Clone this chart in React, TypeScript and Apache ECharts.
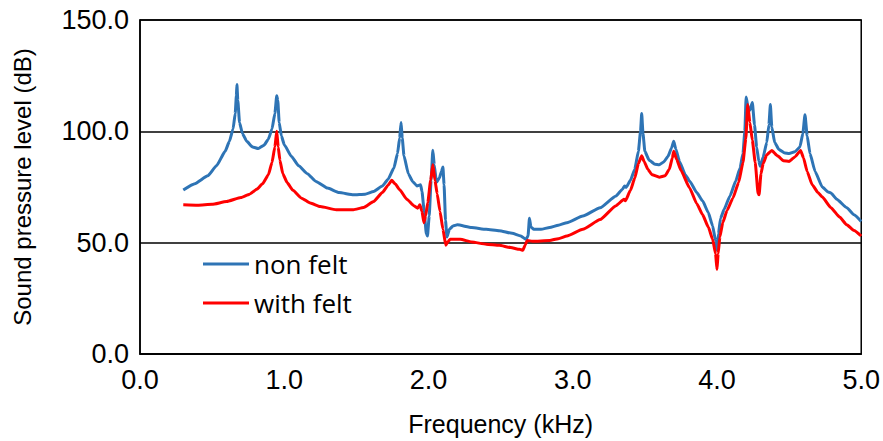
import React, { useEffect, useRef } from "react";
import * as echarts from "echarts";

// Frequency response, [frequency kHz, SPL dB]
const nonFelt: [number, number][] = [
  [0.30, 73.7], [0.38, 76.5], [0.47, 80], [0.53, 84.5], [0.59, 91], [0.62, 95.5],
  [0.645, 101], [0.66, 108], [0.668, 116], [0.672, 121], [0.678, 114], [0.69, 104],
  [0.71, 99], [0.74, 95.5], [0.78, 93], [0.82, 92.3], [0.86, 93.8], [0.89, 96.5],
  [0.915, 101], [0.935, 108], [0.948, 116], [0.955, 114], [0.965, 104], [0.98, 98],
  [1.00, 94], [1.05, 88.7], [1.10, 84.5], [1.16, 81], [1.22, 77.5], [1.30, 74.5],
  [1.38, 72.5], [1.48, 71.5], [1.56, 71.8], [1.62, 73], [1.68, 75.4], [1.72, 78.5],
  [1.76, 83.5], [1.785, 90], [1.80, 97], [1.81, 104], [1.818, 97], [1.83, 89],
  [1.86, 81], [1.89, 77.5], [1.92, 75.5], [1.945, 76], [1.955, 73], [1.97, 64],
  [1.985, 54], [1.993, 53], [2.005, 62], [2.018, 78], [2.03, 91.5], [2.04, 85],
  [2.055, 77], [2.075, 79], [2.09, 82], [2.10, 84], [2.108, 76], [2.118, 60],
  [2.128, 52.5], [2.145, 56], [2.17, 57.5], [2.2, 58], [2.3, 56.8], [2.4, 56],
  [2.49, 55.4], [2.58, 54.2], [2.64, 53], [2.675, 51.5], [2.69, 53], [2.70, 61],
  [2.71, 57], [2.73, 56], [2.78, 56], [2.84, 56.8], [2.9, 57.8], [2.96, 59],
  [3.07, 62], [3.19, 65.7], [3.30, 71], [3.345, 74], [3.36, 75.5], [3.37, 74.8],
  [3.40, 78], [3.43, 83], [3.455, 91], [3.47, 100], [3.478, 108], [3.487, 99],
  [3.50, 91], [3.53, 87], [3.57, 85.2], [3.60, 85], [3.63, 86.2], [3.66, 88.7],
  [3.685, 92.5], [3.70, 95.5], [3.715, 92], [3.74, 86.5], [3.78, 80.5],
  [3.81, 77.7], [3.86, 72.5], [3.90, 68.8], [3.94, 63.5], [3.97, 57.5],
  [3.99, 51], [4.00, 46.6], [4.01, 54], [4.025, 61], [4.05, 65], [4.09, 71],
  [4.13, 77.7], [4.16, 83.5], [4.18, 90], [4.193, 100], [4.202, 115.4],
  [4.215, 111], [4.228, 109.5], [4.245, 113], [4.26, 103], [4.275, 93],
  [4.29, 86.5], [4.30, 84.3], [4.32, 88.5], [4.345, 95], [4.36, 103], [4.37, 112],
  [4.38, 102], [4.40, 95], [4.43, 91.8], [4.47, 90.3], [4.50, 90], [4.54, 90.8],
  [4.575, 93], [4.595, 99], [4.61, 107.5], [4.625, 98], [4.645, 90], [4.68, 82],
  [4.73, 75], [4.77, 72.8], [4.79, 72.3], [4.83, 69.5], [4.90, 65.7],
  [4.95, 62.5], [5.0, 59.5],
];

const withFelt: [number, number][] = [
  [0.30, 67], [0.40, 66.8], [0.50, 67.2], [0.60, 68.5], [0.70, 70.3], [0.76, 71.8],
  [0.81, 74], [0.85, 76.5], [0.89, 80.5], [0.915, 86], [0.935, 93], [0.948, 100],
  [0.958, 93], [0.97, 87], [0.99, 81], [1.02, 77], [1.06, 73.5], [1.12, 70],
  [1.18, 67.8], [1.25, 66.2], [1.36, 64.8], [1.48, 64.8], [1.55, 65.8],
  [1.62, 68.5], [1.68, 72.5], [1.72, 75.8], [1.745, 78], [1.77, 76.3], [1.8, 73.8],
  [1.85, 69.5], [1.90, 66.5], [1.925, 65.5], [1.94, 67], [1.955, 64], [1.968, 59],
  [1.98, 62], [1.995, 68], [2.015, 78], [2.03, 85], [2.045, 78], [2.06, 72],
  [2.08, 64], [2.10, 56], [2.12, 48.8], [2.135, 50.5], [2.15, 51.5], [2.22, 51.5],
  [2.3, 50.3], [2.40, 49.3], [2.49, 48.8], [2.57, 47.8], [2.63, 47], [2.655, 46.6],
  [2.67, 49], [2.685, 51], [2.72, 50.6], [2.84, 51], [2.9, 51.8], [2.96, 53],
  [3.07, 56], [3.19, 60.4], [3.30, 66.6], [3.355, 69.5], [3.365, 68.8],
  [3.40, 73.5], [3.43, 79], [3.455, 85.5], [3.478, 89], [3.495, 86.5], [3.52, 83],
  [3.55, 80.5], [3.60, 79.4], [3.64, 80], [3.67, 83], [3.69, 88], [3.70, 91],
  [3.72, 87.5], [3.75, 82.5], [3.81, 74.6], [3.86, 67.5], [3.90, 62.6], [3.94, 57],
  [3.97, 51.5], [3.99, 45], [4.00, 38], [4.008, 45], [4.02, 52.5], [4.04, 59],
  [4.07, 64.5], [4.11, 70], [4.15, 77], [4.18, 86], [4.20, 96.7], [4.213, 112],
  [4.228, 104], [4.245, 96], [4.265, 86], [4.285, 72], [4.292, 71.5], [4.305, 81],
  [4.32, 85.5], [4.345, 89.5], [4.38, 91.4], [4.42, 89], [4.46, 86.8], [4.50, 86.5],
  [4.54, 88.5], [4.58, 91.4], [4.60, 88], [4.625, 82], [4.66, 76], [4.70, 72.5],
  [4.73, 70.5], [4.79, 65.7], [4.85, 61.5], [4.90, 58], [4.95, 55.5], [5.0, 53],
];

const seriesNames = ["non felt", "with felt"];
const seriesColors = ["#2E74B5", "#FF0000"];

const AXIS_FONT = "'Liberation Sans Narrow', 'Arial Narrow', 'Liberation Sans', Arial, sans-serif";
const TITLE_FONT = "'Liberation Sans', Arial, sans-serif";
const LEGEND_FONT = "'Open Sans', 'Noto Sans', sans-serif";

export default function App() {
  const ref = useRef<HTMLDivElement>(null);

  useEffect(() => {
    if (!ref.current) return;
    const chart = echarts.init(ref.current, undefined, { renderer: "svg" });
    chart.setOption({
      animation: false,
      textStyle: { fontFamily: TITLE_FONT },
      grid: {
        left: 140,
        right: 21,
        top: 20,
        bottom: 83,
        show: true,
        borderColor: "#000",
        borderWidth: 1.5,
      },
      legend: {
        left: 198,
        top: 246,
        orient: "vertical",
        icon: "rect",
        itemWidth: 46,
        itemHeight: 3,
        itemGap: 13,
        textStyle: { fontSize: 26, color: "#000", fontFamily: LEGEND_FONT },
        data: seriesNames,
      },
      xAxis: {
        type: "value",
        min: 0,
        max: 5,
        interval: 1,
        name: "Frequency (kHz)",
        nameLocation: "middle",
        nameGap: 57,
        nameTextStyle: { fontSize: 25, color: "#000", fontFamily: TITLE_FONT },
        axisLine: { show: true, lineStyle: { color: "#000", width: 1.5 } },
        axisTick: { show: false },
        axisLabel: {
          fontSize: 27,
          color: "#000",
          fontFamily: AXIS_FONT,
          margin: 12,
          formatter: (v: number) => v.toFixed(1),
        },
        splitLine: { show: false },
      },
      yAxis: {
        type: "value",
        min: 0,
        max: 150,
        interval: 50,
        name: "Sound pressure level (dB)",
        nameLocation: "middle",
        nameGap: 106,
        nameTextStyle: { fontSize: 24, color: "#000", fontFamily: TITLE_FONT },
        axisLine: { show: true, lineStyle: { color: "#000", width: 1.5 } },
        axisTick: { show: false },
        axisLabel: {
          fontSize: 27,
          color: "#000",
          fontFamily: AXIS_FONT,
          margin: 11,
          formatter: (v: number) => v.toFixed(1),
        },
        splitLine: { show: true, lineStyle: { color: "#000", width: 1.5 } },
      },
      series: [
        {
          name: seriesNames[0],
          type: "line",
          data: nonFelt,
          showSymbol: false,
          symbol: "none",
          smooth: 0.15,
          smoothMonotone: "x",
          lineStyle: { color: seriesColors[0], width: 3 },
          itemStyle: { color: seriesColors[0] },
          z: 2,
        },
        {
          name: seriesNames[1],
          type: "line",
          data: withFelt,
          showSymbol: false,
          symbol: "none",
          smooth: 0.15,
          smoothMonotone: "x",
          lineStyle: { color: seriesColors[1], width: 3 },
          itemStyle: { color: seriesColors[1] },
          z: 3,
        },
      ],
    });
    return () => chart.dispose();
  }, []);

  return <div ref={ref} style={{ width: 883, height: 441, position: "absolute", left: 0, top: 0 }} />;
}
